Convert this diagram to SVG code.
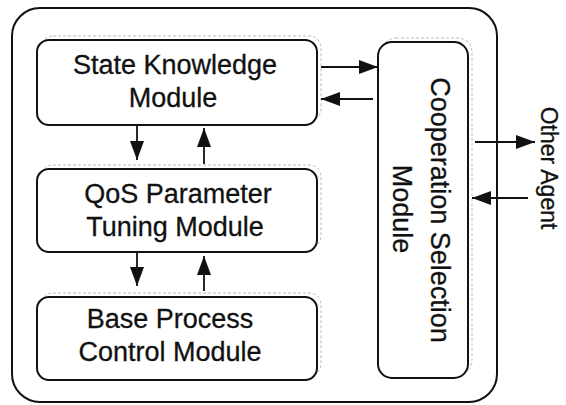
<svg xmlns="http://www.w3.org/2000/svg" width="566" height="405" viewBox="0 0 566 405">
<style>
.box{fill:#fff;stroke:#111;stroke-width:2}
.shadow{fill:none;stroke:#bdbdbd;stroke-width:1;stroke-dasharray:3 2}
.t{font-family:"Liberation Sans",Arial,sans-serif;font-size:27px;fill:#111;stroke:#111;stroke-width:0.3;text-anchor:middle}
.t2{font-family:"Liberation Sans",Arial,sans-serif;font-size:23px;fill:#111;stroke:#111;stroke-width:0.3;text-anchor:middle}
.c{stroke:#111;stroke-width:1.8;fill:none;marker-end:url(#ah)}
</style>
<defs>
<marker id="ah" markerUnits="userSpaceOnUse" markerWidth="19" markerHeight="14" refX="19" refY="7" orient="auto">
<path d="M0,0 L19,7 L0,14 z" fill="#111"/>
</marker>
</defs>
<rect width="566" height="405" fill="#fff"/>
<g id="outer">
<rect class="box" x="12" y="8" width="485" height="394" rx="28"/>
</g>
<g id="state-knowledge">
<rect class="shadow" x="41" y="36" width="280" height="85" rx="12"/>
<rect class="box" x="37" y="40" width="280" height="85" rx="12"/>
<text class="t" x="175" y="74">State Knowledge</text>
<text class="t" x="173" y="107">Module</text>
</g>
<g id="qos-tuning">
<rect class="shadow" x="41" y="165" width="280" height="83" rx="12"/>
<rect class="box" x="37" y="169" width="280" height="83" rx="12"/>
<text class="t" x="178" y="203">QoS Parameter</text>
<text class="t" x="175" y="236">Tuning Module</text>
</g>
<g id="base-process">
<rect class="shadow" x="41" y="293" width="280" height="83" rx="12"/>
<rect class="box" x="37" y="297" width="280" height="83" rx="12"/>
<text class="t" x="170" y="328">Base Process</text>
<text class="t" x="170" y="361">Control Module</text>
</g>
<g id="cooperation-selection">
<rect class="shadow" x="382" y="38" width="90" height="336" rx="14"/>
<rect class="box" x="378" y="42" width="90" height="336" rx="14"/>
<text class="t" transform="translate(431,210) rotate(90)">Cooperation Selection</text>
<text class="t" transform="translate(393,209) rotate(90)">Module</text>
</g>
<g id="other-agent">
<text class="t2" transform="translate(541,168) rotate(90)">Other Agent</text>
</g>
<g id="connectors">
<line class="c" x1="321" y1="67" x2="378" y2="67"/>
<line class="c" x1="373" y1="99" x2="321" y2="99"/>
<line class="c" x1="137" y1="125" x2="137" y2="160"/>
<line class="c" x1="204" y1="164" x2="204" y2="128"/>
<line class="c" x1="137" y1="252" x2="137" y2="286"/>
<line class="c" x1="204" y1="291" x2="204" y2="256"/>
<line class="c" x1="475" y1="142" x2="535" y2="142"/>
<line class="c" x1="528" y1="198" x2="472" y2="198"/>
</g>
</svg>
